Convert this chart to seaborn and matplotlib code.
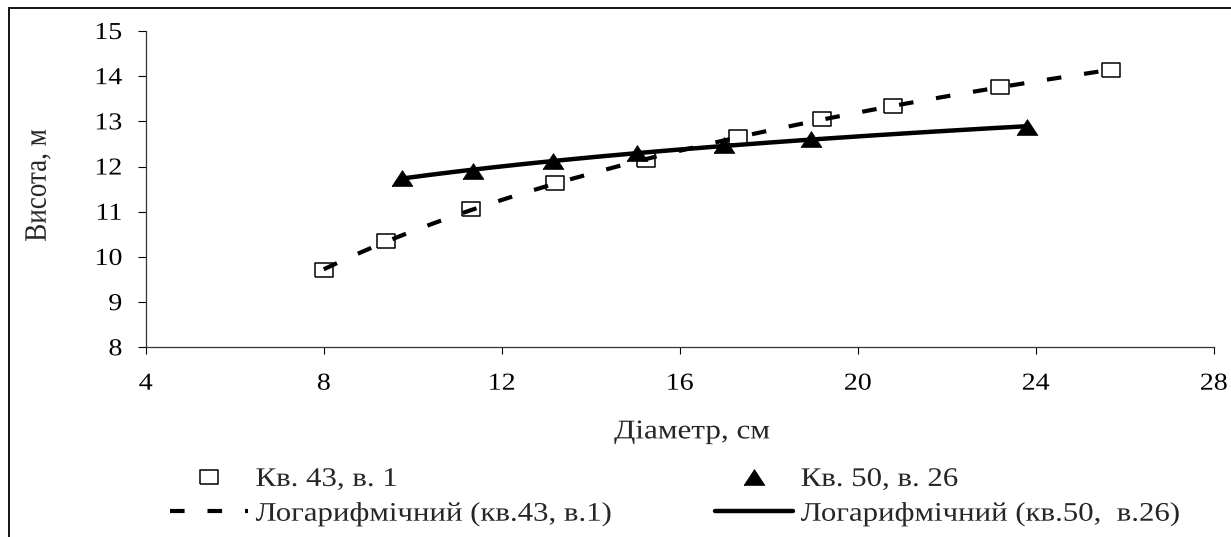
import numpy as np
import pandas as pd
import matplotlib
matplotlib.use("Agg")
import matplotlib.pyplot as plt
from matplotlib.lines import Line2D
from matplotlib.patches import Rectangle
from matplotlib.patheffects import AbstractPathEffect
from matplotlib.transforms import Affine2D
import seaborn as sns

# Diameter / height measurements for two sample plots
d_kv43 = [8.0, 9.4, 11.3, 13.2, 15.25, 17.3, 19.2, 20.8, 23.2, 25.7]
h_kv43 = [9.7, 10.35, 11.05, 11.63, 12.15, 12.65, 13.05, 13.35, 13.75, 14.13]
d_kv50 = [9.75, 11.35, 13.15, 15.05, 17.0, 18.95, 23.8]
h_kv50 = [11.75, 11.9, 12.12, 12.3, 12.48, 12.6, 12.88]

label_kv43 = "Кв. 43, в. 1"
label_kv50 = "Кв. 50, в. 26"
label_fit43 = "Логарифмічний (кв.43, в.1)"
label_fit50 = "Логарифмічний (кв.50,  в.26)"
x_label = "Діаметр, см"
y_label = "Висота, м"
x_ticks = [4, 8, 12, 16, 20, 24, 28]
y_ticks = [8, 9, 10, 11, 12, 13, 14, 15]

sns.set_style("ticks")
plt.rcParams["font.family"] = ["Liberation Serif", "DejaVu Serif"]

TICK_FS = 17.5
LABEL_FS = 19.5
LEGEND_FS = 19.3
WIDE = 1.15  # horizontal widening of the glyphs


class Widen(AbstractPathEffect):
    """Draw text paths widened horizontally about a pivot on the ink box."""

    def __init__(self, factor, pivot="left", along="x"):
        super().__init__()
        self.factor = factor
        self.pivot = pivot
        self.along = along

    def draw_path(self, renderer, gc, tpath, affine, rgbFace=None):
        ext = tpath.get_extents()
        if self.along == "x":
            p = {"left": ext.x0, "center": 0.5 * (ext.x0 + ext.x1),
                 "right": ext.x1}[self.pivot]
            t = Affine2D().translate(-p, 0).scale(self.factor, 1).translate(p, 0)
        else:
            p = 0.5 * (ext.y0 + ext.y1)
            t = Affine2D().translate(0, -p).scale(1, self.factor).translate(0, p)
        renderer.draw_path(gc, tpath, t + affine, rgbFace)


def log_fit(x, y, n=200):
    """Least-squares fit y = a*ln(x) + b over the data range."""
    x = np.asarray(x, float)
    a, b = np.polyfit(np.log(x), np.asarray(y, float), 1)
    xs = np.linspace(x.min(), x.max(), n)
    return pd.DataFrame({"d": xs, "h": a * np.log(xs) + b})


df43 = pd.DataFrame({"d": d_kv43, "h": h_kv43})
df50 = pd.DataFrame({"d": d_kv50, "h": h_kv50})
fit43 = log_fit(d_kv43, h_kv43)
fit50 = log_fit(d_kv50, h_kv50)

fig = plt.figure(figsize=(12.31, 5.37), dpi=100)
ax = fig.add_axes([0.1184, 0.3533, 0.8676, 0.5890])

# slightly wide marker shapes
sq = [(-1.0, -0.8), (1.0, -0.8), (1.0, 0.8), (-1.0, 0.8), (-1.0, -0.8)]
tri = [(-1.0, -0.76), (1.0, -0.76), (0.0, 0.76), (-1.0, -0.76)]
dash = (0, (3.5, 5.5))

sns.scatterplot(data=df43, x="d", y="h", ax=ax, marker=sq, s=175,
                facecolor="white", edgecolor="black", linewidth=1.1, zorder=3)
sns.scatterplot(data=df50, x="d", y="h", ax=ax, marker=tri, s=225,
                color="black", edgecolor="black", linewidth=0.5, zorder=3)
sns.lineplot(data=fit43, x="d", y="h", ax=ax, color="black", lw=3.0,
             linestyle=dash, sort=False, estimator=None, zorder=4)
sns.lineplot(data=fit50, x="d", y="h", ax=ax, color="black", lw=3.2,
             sort=False, estimator=None, zorder=4)

ax.set_xlim(4, 28)
ax.set_ylim(8, 15)
ax.set_xticks(x_ticks)
ax.set_yticks(y_ticks)
ax.tick_params(axis="x", length=5, width=0.8, pad=14, labelsize=TICK_FS, colors="black")
ax.tick_params(axis="y", length=6, width=0.8, pad=11, labelsize=TICK_FS, colors="black")
for lbl in ax.get_xticklabels():
    lbl.set_path_effects([Widen(WIDE, "center")])
for lbl in ax.get_yticklabels():
    lbl.set_path_effects([Widen(WIDE, "right")])
for side in ("top", "right"):
    ax.spines[side].set_visible(False)
for side in ("left", "bottom"):
    ax.spines[side].set_color("#333333")
    ax.spines[side].set_linewidth(0.9)

ax.set_xlabel(x_label, fontsize=LABEL_FS, path_effects=[Widen(WIDE, "center")])
ax.set_ylabel(y_label, fontsize=LABEL_FS, path_effects=[Widen(WIDE, along="y")])
ax.xaxis.set_label_coords(0.5115, -0.228)
ax.yaxis.set_label_coords(-0.089, 0.512)

handles = [
    Line2D([], [], ls="none", marker=sq, ms=13.2, mfc="white", mec="black", mew=1.1),
    Line2D([], [], color="black", lw=3.0, ls=dash),
    Line2D([], [], ls="none", marker=tri, ms=15.0, mfc="black", mec="black", mew=0.5),
    Line2D([], [], color="black", lw=3.2),
]
labels = [label_kv43, label_fit43, label_kv50, label_fit50]
leg = fig.legend(handles, labels, ncol=2, loc="upper left",
                 bbox_to_anchor=(0.138, 0.1305), bbox_transform=fig.transFigure,
                 frameon=False, fontsize=LEGEND_FS, handlelength=2.9,
                 handletextpad=0.3, columnspacing=5.6, labelspacing=0.36,
                 borderpad=0, borderaxespad=0)
for txt in leg.get_texts():
    txt.set_path_effects([Widen(WIDE, "left")])

# outer chart-area frame
fig.patches.append(Rectangle((9 / 1231, -0.2), 1.2, 1.2 - 7.5 / 537,
                             transform=fig.transFigure, fill=False,
                             edgecolor="black", lw=1.3, zorder=0))

fig.savefig("out.png", dpi=100)
